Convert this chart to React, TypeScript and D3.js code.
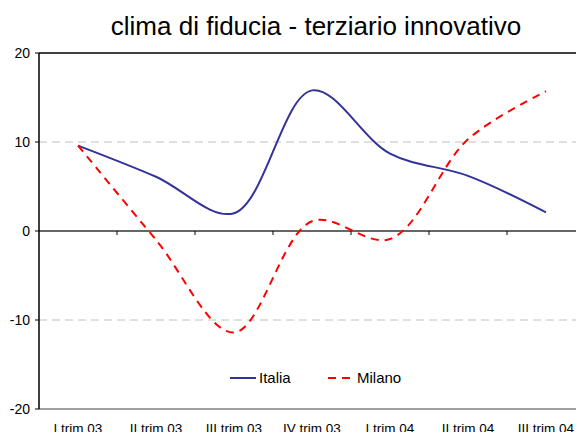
import React, { useRef, useEffect } from 'react';
import * as d3 from 'd3';

const categories = ['I trim 03', 'II trim 03', 'III trim 03', 'IV trim 03', 'I trim 04', 'II trim 04', 'III trim 04'];
const italia = [9.6, 6.1, 2.0, 15.8, 8.7, 6.2, 2.1];
const milano = [9.6, -1.0, -11.4, 1.1, -0.9, 10.3, 15.7];
const yTicks = [-20, -10, 0, 10, 20];

const W = 576;
const H = 432;
const FONT = 'Liberation Sans, Arial, sans-serif';

export default function App() {
  const svgRef = useRef<SVGSVGElement>(null);

  useEffect(() => {
    const svg = d3.select(svgRef.current);
    svg.selectAll('*').remove();

    const left = 39;
    const top = 53;
    const bottom = 409;
    const right = left + 78 * 7; // plot runs past the right edge, like the original

    const x = d3.scaleBand().domain(categories).range([left, right]);
    const y = d3.scaleLinear().domain([-20, 20]).range([bottom, top]);
    const cx = (c: string) => x(c)! + x.bandwidth() / 2;

    // title
    svg.append('text')
      .attr('x', 316).attr('y', 35)
      .attr('text-anchor', 'middle')
      .style('font-family', FONT)
      .style('font-size', '26px')
      .text('clima di fiducia - terziario innovativo');

    // dashed gridlines
    svg.append('g').selectAll('line')
      .data([10, -10])
      .join('line')
      .attr('x1', left).attr('x2', right)
      .attr('y1', d => y(d)).attr('y2', d => y(d))
      .attr('stroke', '#c0c0c0')
      .attr('stroke-width', 1)
      .attr('stroke-dasharray', '8,5');

    // top and bottom borders
    svg.append('line')
      .attr('x1', left).attr('x2', right)
      .attr('y1', y(20)).attr('y2', y(20))
      .attr('stroke', '#000').attr('stroke-width', 1.3);
    svg.append('line')
      .attr('x1', left).attr('x2', right)
      .attr('y1', y(-20)).attr('y2', y(-20))
      .attr('stroke', '#808080').attr('stroke-width', 1.5);

    // x axis at zero with ticks
    const xAxis = svg.append('g').attr('transform', `translate(0,${y(0)})`);
    xAxis.append('line')
      .attr('x1', left).attr('x2', right)
      .attr('stroke', '#333').attr('stroke-width', 1.3);
    xAxis.selectAll('line.tk')
      .data(categories)
      .join('line')
      .attr('class', 'tk')
      .attr('x1', d => x(d)! + x.bandwidth()).attr('x2', d => x(d)! + x.bandwidth())
      .attr('y1', 0).attr('y2', 4)
      .attr('stroke', '#000');

    // x labels (cut by the bottom edge in the original)
    svg.append('g').selectAll('text')
      .data(categories)
      .join('text')
      .attr('x', d => cx(d))
      .attr('y', 433)
      .attr('text-anchor', 'middle')
      .style('font-family', FONT)
      .style('font-size', '13.5px')
      .text(d => d);

    // y axis
    svg.append('line')
      .attr('x1', left).attr('x2', left)
      .attr('y1', top).attr('y2', bottom)
      .attr('stroke', '#000').attr('stroke-width', 1.5);
    const yg = svg.append('g');
    yg.selectAll('line')
      .data(yTicks)
      .join('line')
      .attr('x1', left - 4).attr('x2', left)
      .attr('y1', d => y(d)).attr('y2', d => y(d))
      .attr('stroke', '#000');
    yg.selectAll('text')
      .data(yTicks)
      .join('text')
      .attr('x', 30)
      .attr('y', d => y(d))
      .attr('dy', '0.35em')
      .attr('text-anchor', 'end')
      .style('font-family', FONT)
      .style('font-size', '14px')
      .text(d => d);

    const line = d3.line<number>()
      .x((d, i) => cx(categories[i]))
      .y(d => y(d))
      .curve(d3.curveCatmullRom.alpha(0.5));

    svg.append('path')
      .datum(italia)
      .attr('d', line)
      .attr('fill', 'none')
      .attr('stroke', '#333399')
      .attr('stroke-width', 2);

    svg.append('path')
      .datum(milano)
      .attr('d', line)
      .attr('fill', 'none')
      .attr('stroke', '#ff0000')
      .attr('stroke-width', 2)
      .attr('stroke-dasharray', '8,6');

    // legend
    const leg = svg.append('g').style('font-family', FONT).style('font-size', '15px');
    leg.append('line').attr('x1', 230).attr('x2', 256).attr('y1', 378).attr('y2', 378)
      .attr('stroke', '#333399').attr('stroke-width', 2);
    leg.append('text').attr('x', 259).attr('y', 378).attr('dy', '0.35em').text('Italia');
    leg.append('line').attr('x1', 328).attr('x2', 355).attr('y1', 378).attr('y2', 378)
      .attr('stroke', '#ff0000').attr('stroke-width', 2).attr('stroke-dasharray', '8,6');
    leg.append('text').attr('x', 357).attr('y', 378).attr('dy', '0.35em').text('Milano');
  }, []);

  return (
    <div style={{ position: 'absolute', left: 0, top: 0 }}>
      <svg ref={svgRef} width={W} height={H} style={{ display: 'block' }}></svg>
    </div>
  );
}
